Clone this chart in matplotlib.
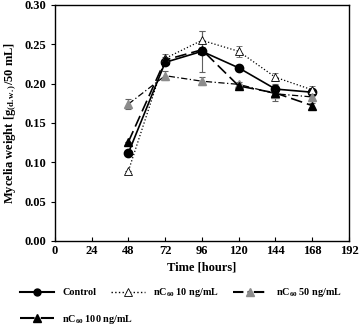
import matplotlib
matplotlib.use("Agg")
import matplotlib.pyplot as plt
from matplotlib.lines import Line2D

plt.rcParams['font.family'] = ['Liberation Serif', 'DejaVu Serif']
plt.rcParams['font.weight'] = 'bold'
plt.rcParams['mathtext.fontset'] = 'custom'
plt.rcParams['mathtext.rm'] = 'Liberation Serif:bold'
plt.rcParams['mathtext.it'] = 'Liberation Serif:bold'
plt.rcParams['mathtext.bf'] = 'Liberation Serif:bold'

hours = [48, 72, 96, 120, 144, 168]
control = [0.112, 0.227, 0.241, 0.220, 0.193, 0.189]
control_err = [0.0, 0.004, 0.026, 0.004, 0.006, 0.004]
nc10 = [0.089, 0.232, 0.255, 0.241, 0.208, 0.192]
nc10_err = [0.0, 0.005, 0.012, 0.007, 0.005, 0.005]
nc50 = [0.174, 0.210, 0.203, 0.199, 0.187, 0.183]
nc50_err = [0.006, 0.006, 0.005, 0.003, 0.004, 0.005]
nc100 = [0.126, 0.230, 0.243, 0.197, 0.188, 0.172]
nc100_err = [0.0, 0.004, 0.004, 0.003, 0.010, 0.003]

labels = ["Control", "nC$_{60}$ 10 ng/mL", "nC$_{60}$ 50 ng/mL", "nC$_{60}$ 100 ng/mL"]
gray = "#8c8c8c"

fig = plt.figure(figsize=(3.59, 3.29), dpi=100)
ax = fig.add_axes([0.153, 0.268, 0.819, 0.717])

ekw = dict(ecolor="#606060", elinewidth=0.8, capsize=2.5, capthick=0.8)
ax.errorbar(hours, control, yerr=control_err, color="black", ls="-", lw=1.2,
            marker="o", ms=6, mfc="black", mec="black", **ekw)
ax.errorbar(hours, nc10, yerr=nc10_err, color="black", ls=":", lw=0.9,
            marker="^", ms=6, mfc="white", mec="black", mew=0.6, **ekw)
ax.errorbar(hours, nc50, yerr=nc50_err, color="black", ls=(0, (5, 2, 1, 2)), lw=0.9,
            marker="^", ms=6, mfc=gray, mec=gray, **ekw)
ax.errorbar(hours, nc100, yerr=nc100_err, color="black", ls=(0, (7, 3)), lw=1.2,
            marker="^", ms=6, mfc="black", mec="black", **ekw)

ax.set_xlim(0, 192)
ax.set_ylim(0, 0.30)
ax.set_xticks(range(0, 193, 24))
ax.set_yticks([0, 0.05, 0.10, 0.15, 0.20, 0.25, 0.30])
ax.set_yticklabels(["0.00", "0.05", "0.10", "0.15", "0.20", "0.25", "0.30"])
ax.tick_params(axis="x", direction="in", length=3, labelsize=9, pad=3)
ax.tick_params(axis="y", direction="out", length=3, labelsize=9)
for s in ax.spines.values():
    s.set_linewidth(1.0)
ax.set_xlabel("Time [hours]", fontsize=9, fontweight="bold", labelpad=3)
ax.set_ylabel("Mycelia weight [g$_{(d.w.)}$/50 mL]", fontsize=9, fontweight="bold", labelpad=4)

handles = [
    Line2D([], [], color="black", ls="-", lw=1.5, marker="o", ms=5, mfc="black"),
    Line2D([], [], color="black", ls=":", lw=1.0, marker="^", ms=6, mfc="white", mew=0.6),
    Line2D([], [], color="black", ls=(0, (5, 2, 1, 2)), lw=1.5, marker="^", ms=6, mfc=gray, mec=gray),
    Line2D([], [], color="black", ls=(0, (7, 3)), lw=1.5, marker="^", ms=6, mfc="black"),
]
fig.legend(handles[:3], labels[:3], loc="center left", bbox_to_anchor=(0.03, 0.11),
           ncol=3, frameon=False, fontsize=7.3, handlelength=3.4, columnspacing=1.4,
           handletextpad=0.8)
fig.legend(handles[3:], labels[3:], loc="center left", bbox_to_anchor=(0.03, 0.03),
           frameon=False, fontsize=7.3, handlelength=3.4, handletextpad=0.8)

fig.savefig("out.png", dpi=100)
